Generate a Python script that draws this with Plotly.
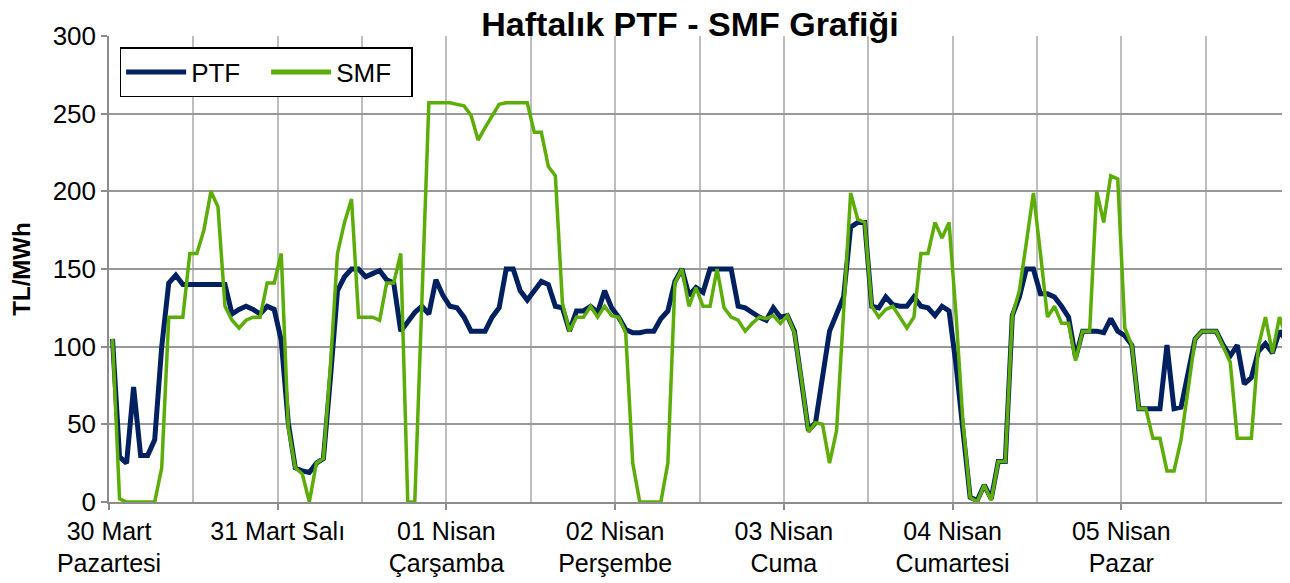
import plotly.graph_objects as go

# Hourly values for the week (168 hours)
hours = list(range(168))

ptf = [105, 29, 25, 74, 30, 30, 40, 100, 141, 146, 140, 140, 140, 140, 140, 140, 140, 121, 124, 126, 124, 121, 126, 124,
       104, 51, 22, 20, 19, 25, 28, 80, 136, 145, 150, 150, 145, 147, 149, 143, 141, 110, 116, 122, 126, 121, 143, 133,
       126, 125, 119, 110, 110, 110, 119, 125, 150, 150, 136, 130, 136, 142, 140, 126, 125, 110, 123, 123, 126, 122, 136, 125,
       119, 111, 109, 109, 110, 110, 118, 123, 142, 150, 133, 138, 135, 150, 150, 150, 150, 126, 125, 122, 119, 117, 125, 119,
       120, 110, 79, 46, 51, 79, 110, 121, 132, 177, 180, 180, 126, 125, 132, 127, 126, 126, 132, 126, 125, 120, 126, 123,
       88, 45, 3, 1, 11, 2, 26, 26, 120, 132, 150, 150, 134, 134, 132, 126, 119, 93, 110, 110, 110, 109, 118, 110,
       107, 101, 60, 60, 60, 60, 101, 60, 61, 83, 105, 110, 110, 110, 101, 94, 101, 76, 80, 97, 102, 96, 110, 104]

smf = [105, 2, 0, 0, 0, 0, 0, 22, 119, 119, 119, 160, 160, 175, 200, 190, 126, 117, 112, 117, 119, 119, 141, 141,
       160, 48, 22, 18, 0, 25, 28, 88, 160, 180, 195, 119, 119, 119, 117, 141, 141, 160, 0, 0, 128, 257, 257, 257,
       257, 256, 255, 249, 233, 241, 249, 256, 257, 257, 257, 257, 238, 238, 216, 210, 128, 110, 119, 119, 126, 119, 126, 120,
       119, 109, 25, 0, 0, 0, 0, 25, 141, 150, 126, 138, 126, 126, 150, 125, 119, 117, 110, 115, 119, 118, 120, 115,
       120, 109, 79, 45, 51, 50, 25, 46, 125, 199, 182, 180, 126, 119, 124, 126, 119, 112, 119, 160, 160, 180, 170, 180,
       120, 50, 3, 0, 11, 1, 26, 26, 120, 136, 167, 199, 160, 119, 126, 115, 115, 91, 110, 110, 200, 180, 210, 208,
       112, 101, 60, 60, 41, 41, 20, 20, 40, 74, 105, 110, 110, 110, 100, 90, 41, 41, 41, 100, 119, 96, 119, 106]

day_starts = [0, 24, 48, 72, 96, 120, 144]
day_labels = ["30 Mart<br>Pazartesi", "31 Mart Salı", "01 Nisan<br>Çarşamba", "02 Nisan<br>Perşembe",
              "03 Nisan<br>Cuma", "04 Nisan<br>Cumartesi", "05 Nisan<br>Pazar"]

x_pos = [h + 0.5 for h in hours]

FONT = "Liberation Sans, Arial, sans-serif"

fig = go.Figure()
fig.add_trace(go.Scatter(x=x_pos, y=ptf, mode="lines", name="PTF",
                         line=dict(color="#002060", width=5)))
fig.add_trace(go.Scatter(x=x_pos, y=smf, mode="lines", name="SMF",
                         line=dict(color="#5CAD08", width=3.5)))

fig.update_layout(
    width=1282, height=575,
    margin=dict(l=101, r=0, t=28, b=81),
    paper_bgcolor="white", plot_bgcolor="white",
    font=dict(family=FONT, color="black", size=25),
    title=dict(text="<b>Haftalık PTF - SMF Grafiği</b>", x=0.532, xref="container",
               y=0.993, yref="container", xanchor="center", yanchor="top",
               font=dict(size=34, family=FONT, color="black")),
    showlegend=True,
    legend=dict(orientation="h", x=0.009, y=0.976, xanchor="left", yanchor="top",
                bgcolor="white", bordercolor="black", borderwidth=1.5,
                font=dict(size=26, family=FONT), itemwidth=60,
                entrywidth=70, entrywidthmode="pixels", traceorder="normal",
                itemsizing="constant"),
)

fig.update_xaxes(
    range=[0, 168], tickmode="array", tickvals=day_starts, ticktext=day_labels,
    automargin=False,
    showgrid=True, gridcolor="#BEBEBE", gridwidth=1.5,
    minor=dict(dtick=12, tick0=0, showgrid=True, gridcolor="#BEBEBE", gridwidth=1.5, ticks=""),
    showline=True, linecolor="#8C8C8C", linewidth=1.5,
    ticks="outside", ticklen=6, tickcolor="#8C8C8C", tickwidth=1.5,
    tickfont=dict(size=25, family=FONT), zeroline=False,
)
fig.update_yaxes(
    range=[0, 300], dtick=50, tick0=0, automargin=False,
    showgrid=True, gridcolor="#999999", gridwidth=1.5,
    showline=True, linecolor="#8C8C8C", linewidth=1.5,
    ticks="outside", ticklen=6, tickcolor="#8C8C8C", tickwidth=1.5,
    tickfont=dict(size=26, family=FONT), zeroline=False,
    title=dict(text="<b>TL/MWh</b>", font=dict(size=24, family=FONT), standoff=25),
)

fig.write_html("out.html")
